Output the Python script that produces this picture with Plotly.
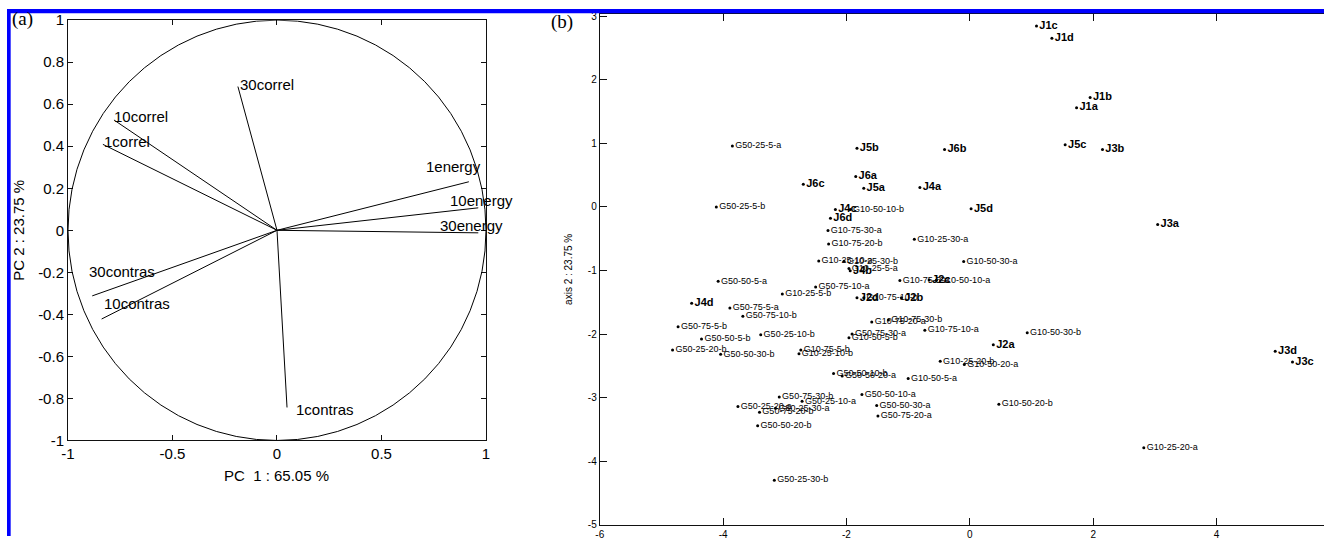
import plotly.graph_objects as go

# The page body keeps the browser's default 8 px margin, so the figure is
# made 16 px smaller and all reference pixel positions are shifted by 8 px.
PAGE_W, PAGE_H = 1344, 560
OFF = 8
W, H = PAGE_W - 2 * OFF, PAGE_H - 2 * OFF

# ---------------- Panel (a): correlation circle ----------------
var_names = ["30correl", "10correl", "1correl", "1energy", "10energy", "30energy",
             "30contras", "10contras", "1contras"]
var_x = [-0.187, -0.780, -0.833, 0.918, 0.963, 0.963, -0.884, -0.839, 0.048]
var_y = [0.684, 0.525, 0.409, 0.231, 0.107, -0.012, -0.312, -0.422, -0.843]
lab_x = [-0.187, -0.788, -0.836, 0.705, 0.820, 0.769, -0.911, -0.839, 0.080]
lab_y = [0.695, 0.540, 0.424, 0.304, 0.143, 0.025, -0.194, -0.348, -0.853]

a_xticks = [-1, -0.5, 0, 0.5, 1]
a_xticklabels = ["-1", "-0.5", "0", "0.5", "1"]
a_yticks = [-1, -0.8, -0.6, -0.4, -0.2, 0, 0.2, 0.4, 0.6, 0.8, 1]
a_yticklabels = ["-1", "-0.8", "-0.6", "-0.4", "-0.2", "0", "0.2", "0.4", "0.6", "0.8", "1"]

# ---------------- Panel (b): individuals ----------------
g_names = ["G50-25-5-a", "G50-25-5-b", "G50-50-5-a", "G50-75-10-a", "G50-75-5-a", "G50-75-10-b",
           "G50-75-5-b", "G50-50-5-b", "G50-25-10-b", "G50-25-20-b", "G50-50-30-b", "G50-75-30-a",
           "G50-50-10-b", "G50-50-20-a", "G50-75-30-b", "G50-25-10-a", "G50-25-20-a", "G50-25-30-a",
           "G50-75-20-b", "G50-50-20-b", "G50-25-30-b", "G50-50-10-a", "G50-50-30-a", "G50-75-20-a",
           "G10-50-10-b", "G10-75-30-a", "G10-75-20-b", "G10-25-30-a", "G10-25-10-a", "G10-25-30-b",
           "G10-25-5-a", "G10-75-5-a", "G10-50-10-a", "G10-50-30-a", "G10-25-5-b", "G10-75-10-b",
           "G10-75-20-a", "G10-75-30-b", "G10-75-10-a", "G10-50-5-b", "G10-75-5-b", "G10-25-10-b",
           "G10-50-5-a", "G10-25-20-b", "G10-50-20-a", "G10-50-30-b", "G10-50-20-b", "G10-25-20-a"]
g_x = [-3.85, -4.11, -4.08, -2.50, -3.89, -3.68,
       -4.73, -4.35, -3.39, -4.82, -4.04, -1.91,
       -2.21, -2.07, -3.09, -2.72, -3.76, -3.15,
       -3.41, -3.44, -3.17, -1.75, -1.51, -1.49,
       -1.94, -2.30, -2.29, -0.90, -2.45, -2.04,
       -1.96, -1.135, -0.545, -0.10, -3.04, -1.72,
       -1.59, -1.32, -0.73, -1.96, -2.74, -2.77,
       -1.00, -0.48, -0.09, 0.93, 0.47, 2.82]
g_y = [0.96, 0.00, -1.17, -1.26, -1.59, -1.72,
       -1.886, -2.08, -2.01, -2.25, -2.32, -2.00,
       -2.62, -2.66, -2.99, -3.06, -3.14, -3.17,
       -3.23, -3.445, -4.30, -2.95, -3.125, -3.29,
       -0.04, -0.37, -0.585, -0.51, -0.85, -0.857,
       -0.97, -1.16, -1.155, -0.86, -1.37, -1.43,
       -1.81, -1.78, -1.94, -2.06, -2.25, -2.31,
       -2.70, -2.43, -2.48, -1.98, -3.105, -3.79]

j_names = ["J1a", "J1b", "J1c", "J1d", "J2a", "J2b", "J2c", "J2d",
           "J3a", "J3b", "J3c", "J3d", "J4a", "J4b", "J4c", "J4d",
           "J5a", "J5b", "J5c", "J5d", "J6a", "J6b", "J6c", "J6d"]
j_x = [1.73, 1.95, 1.08, 1.33, 0.38, -1.11, -0.66, -1.83,
       3.045, 2.15, 5.23, 4.95, -0.81, -1.94, -2.18, -4.51,
       -1.72, -1.83, 1.545, 0.02, -1.85, -0.41, -2.70, -2.26]
j_y = [1.56, 1.72, 2.845, 2.654, -2.17, -1.43, -1.15, -1.43,
       -0.276, 0.905, -2.44, -2.27, 0.305, -1.006, -0.04, -1.515,
       0.294, 0.924, 0.977, -0.03, 0.48, 0.905, 0.355, -0.18]

b_xticks = [-6, -4, -2, 0, 2, 4]
b_xticklabels = ["-6", "-4", "-2", "0", "2", "4"]
b_yticks = [-5, -4, -3, -2, -1, 0, 1, 2, 3]
b_yticklabels = ["-5", "-4", "-3", "-2", "-1", "0", "1", "2", "3"]

FONT = "Liberation Sans, Arial, Helvetica, sans-serif"
SERIF = "Liberation Serif, Times New Roman, serif"


def px_x(p):
    return min(1.0, max(0.0, (p - OFF) / W))


def px_y(p):
    return min(1.0, max(0.0, 1 - (p - OFF) / H))


fig = go.Figure()

# loading vectors
lx, ly = [], []
for vx, vy in zip(var_x, var_y):
    lx += [0, vx, None]
    ly += [0, vy, None]
fig.add_trace(go.Scatter(x=lx, y=ly, mode="lines", line=dict(color="black", width=1),
                         xaxis="x", yaxis="y", showlegend=False, hoverinfo="skip"))

# individuals
fig.add_trace(go.Scatter(x=g_x, y=g_y, text=g_names, mode="markers+text",
                         textposition="middle right",
                         marker=dict(color="black", size=3),
                         textfont=dict(family=FONT, size=9, color="black"),
                         xaxis="x2", yaxis="y2", showlegend=False))
fig.add_trace(go.Scatter(x=j_x, y=j_y, text=j_names, mode="markers+text",
                         textposition="middle right",
                         marker=dict(color="black", size=3),
                         textfont=dict(family=FONT, size=11, color="black", weight="bold"),
                         xaxis="x2", yaxis="y2", showlegend=False))

annotations = []
for name, tx, ty in zip(var_names, lab_x, lab_y):
    annotations.append(dict(x=tx, y=ty, xref="x", yref="y", text=name, showarrow=False,
                            xanchor="left", yanchor="middle",
                            font=dict(family=FONT, size=15, color="black")))

annotations += [
    dict(x=px_x(11), y=px_y(18), xref="paper", yref="paper", text="(a)", showarrow=False,
         xanchor="left", yanchor="middle", font=dict(family=SERIF, size=19, color="black")),
    dict(x=px_x(555), y=px_y(21), xref="paper", yref="paper", text="(b)", showarrow=False,
         xanchor="left", yanchor="middle", font=dict(family=SERIF, size=19, color="black")),
    dict(x=px_x(280), y=px_y(490), xref="paper", yref="paper", text="PC  1 : 65.05 %",
         showarrow=False, xanchor="center", yanchor="middle",
         font=dict(family=FONT, size=15, color="black")),
    dict(x=px_x(20), y=px_y(236), xref="paper", yref="paper", text="PC 2 : 23.75 %",
         showarrow=False, textangle=-90, xanchor="center", yanchor="middle",
         font=dict(family=FONT, size=15, color="black")),
    dict(x=px_x(574), y=px_y(277), xref="paper", yref="paper", text="axis 2 : 23.75 %",
         showarrow=False, textangle=-90, xanchor="center", yanchor="middle",
         font=dict(family=FONT, size=10, color="black")),
]

shapes = [
    dict(type="circle", xref="x", yref="y", x0=-1, y0=-1, x1=1, y1=1,
         line=dict(color="black", width=1)),
    dict(type="rect", xref="paper", yref="paper", x0=px_x(6), x1=1, y0=px_y(12.3), y1=1,
         fillcolor="#0000FF", line=dict(width=0), layer="above"),
    dict(type="rect", xref="paper", yref="paper", x0=0, x1=px_x(11.7), y0=0, y1=1,
         fillcolor="#0000FF", line=dict(width=0), layer="above"),
]

axis_common = dict(showgrid=False, zeroline=False, ticks="inside", linecolor="#111",
                   linewidth=1, showline=True, tickcolor="#111", tickwidth=1)

# right panel: x = -6 at 605.7 px, 62.2 px per unit; it runs to the page edge
b_x_unit = 62.2
b_right_px = OFF + W
b_xmax = -6 + (b_right_px - 605.7) / b_x_unit

fig.update_layout(
    width=W, height=H,
    margin=dict(l=0, r=0, t=0, b=0),
    paper_bgcolor="white", plot_bgcolor="white",
    showlegend=False,
    xaxis=dict(domain=[px_x(69.5), px_x(491)], range=[-1, 1], anchor="y",
               tickvals=a_xticks, ticktext=a_xticklabels, ticklen=5, mirror="allticks",
               tickfont=dict(family=FONT, size=15, color="black"), **axis_common),
    yaxis=dict(domain=[px_y(453.4), px_y(19.5)], range=[-1, 1], anchor="x",
               tickvals=a_yticks, ticktext=a_yticklabels, ticklen=5, mirror="allticks",
               tickfont=dict(family=FONT, size=15, color="black"), **axis_common),
    xaxis2=dict(domain=[px_x(605.7), 1.0], range=[-6, b_xmax], anchor="y2",
                tickvals=b_xticks, ticktext=b_xticklabels, ticklen=7, mirror="allticks",
                tickfont=dict(family=FONT, size=10, color="black"), **axis_common),
    yaxis2=dict(domain=[px_y(540.3), px_y(13.5)], range=[-5, 3.03], anchor="x2",
                tickvals=b_yticks, ticktext=b_yticklabels, ticklen=7, mirror=False,
                tickfont=dict(family=FONT, size=10, color="black"), **axis_common),
    annotations=annotations,
    shapes=shapes,
)

fig.write_html("out.html")
